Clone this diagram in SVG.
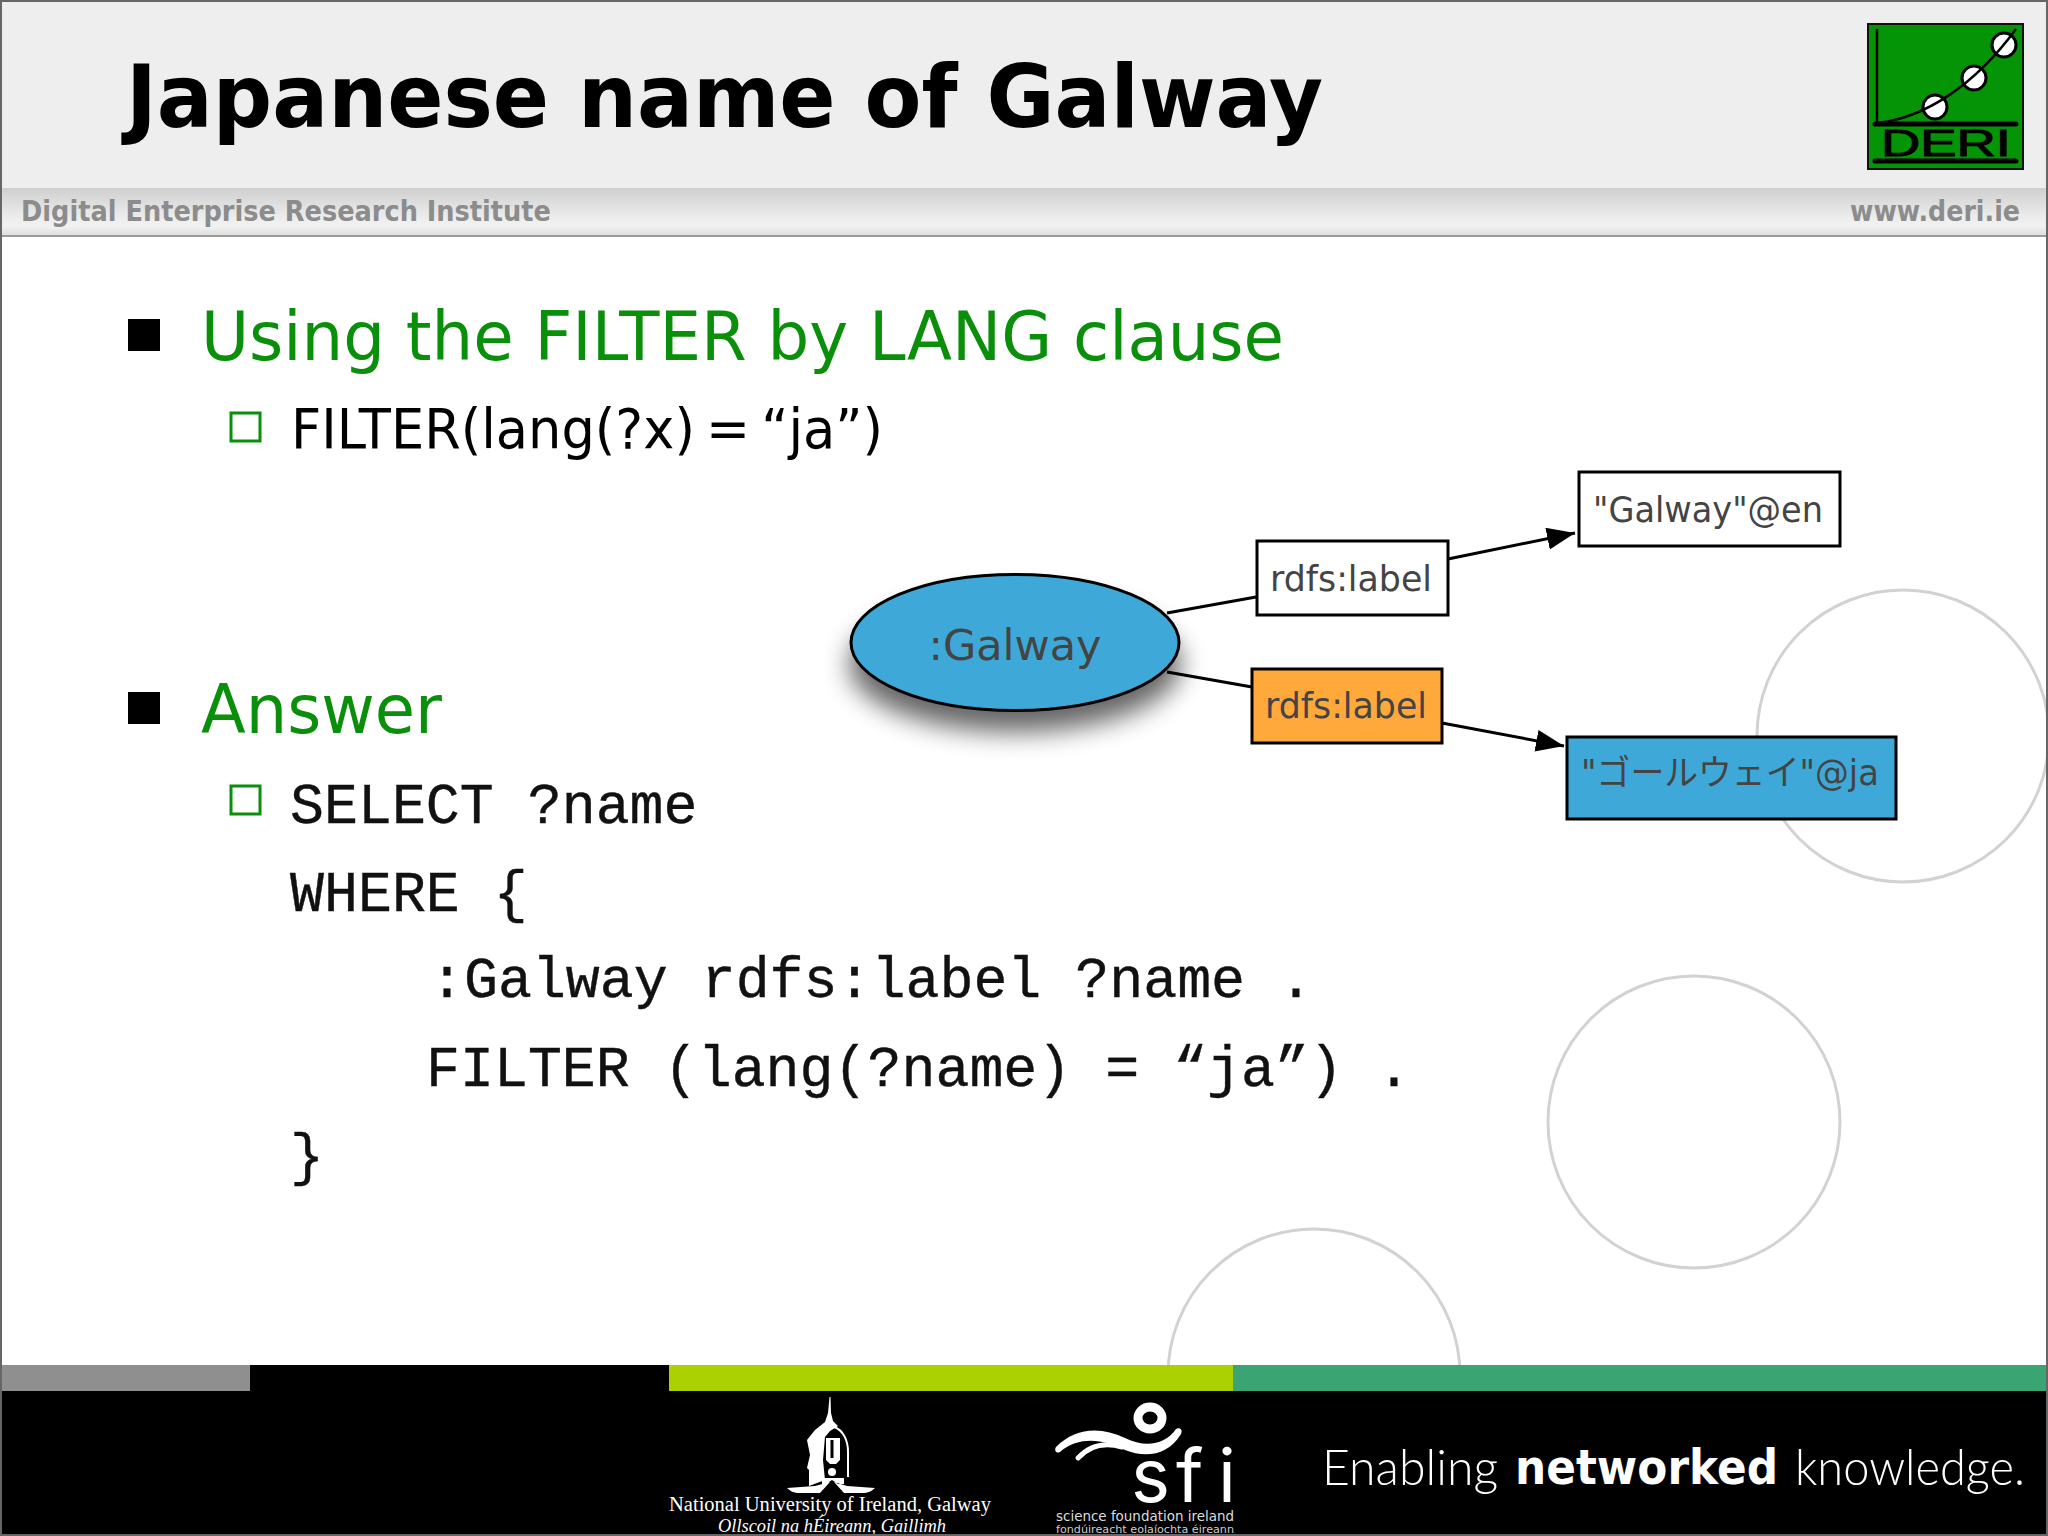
<svg xmlns="http://www.w3.org/2000/svg" width="2048" height="1536" viewBox="0 0 2048 1536">
<style>
.g{font-family:"DejaVu Sans","Liberation Sans",sans-serif;fill:#444}
.grn{font-family:"DejaVu Sans",sans-serif;fill:#0a8f0a;font-size:68px}
.blk{font-family:"DejaVu Sans",sans-serif;fill:#000;font-size:56px}
.mono{font-family:"Liberation Mono",monospace;fill:#111;font-size:56.6px;stroke:#111;stroke-width:.4}
.hd{font-family:"DejaVu Sans",sans-serif;font-weight:bold;fill:#8c8c8c;font-size:29px}
.node{stroke:#000;stroke-width:3}
.conn{stroke:#000;stroke-width:3;fill:none}
.deco{fill:none;stroke:#d2d2d2;stroke-width:3}
.ft{fill:#fff}
</style>
<defs>
<marker id="arr" markerUnits="userSpaceOnUse" markerWidth="30" markerHeight="24" refX="28" refY="11" orient="auto"><path d="M0 0L28 11L0 22z" fill="#000"/></marker>
<linearGradient id="band" x1="0" y1="0" x2="0" y2="1"><stop offset="0" stop-color="#cfcfcf"/><stop offset=".6" stop-color="#ececec"/><stop offset=".8" stop-color="#f2f2f2"/><stop offset="1" stop-color="#dcdcdc"/></linearGradient>
<filter id="sh" x="-30%" y="-40%" width="160%" height="200%"><feGaussianBlur stdDeviation="13"/></filter>
</defs>
<rect width="2048" height="1536" fill="#fff"/>
<g id="header">
<rect width="2048" height="188" fill="#eeeeee"/>
<rect y="188" width="2048" height="48" fill="url(#band)"/>
<rect y="235" width="2048" height="2" fill="#9a9a9a"/>
<text x="126" y="127" font-family="DejaVu Sans,sans-serif" font-weight="bold" font-size="88" fill="#000" textLength="1197" lengthAdjust="spacingAndGlyphs">Japanese name of Galway</text>
<text class="hd" x="21" y="221" textLength="530" lengthAdjust="spacingAndGlyphs">Digital Enterprise Research Institute</text>
<text class="hd" x="1850" y="221" textLength="170" lengthAdjust="spacingAndGlyphs">www.deri.ie</text>
</g>
<g id="logo">
<rect x="1868" y="24" width="155" height="145" fill="#059405" stroke="#111" stroke-width="2"/>
<g fill="#fff" stroke="#000" stroke-width="3"><circle cx="1935" cy="107" r="12"/><circle cx="1974" cy="78" r="12"/><circle cx="2004" cy="45" r="12"/></g>
<path d="M1877 29V124M1877 123C1925 118 1975 85 2016 29" fill="none" stroke="#000" stroke-width="2.5"/>
<path d="M1875 124H2016M1875 161H2016" stroke="#000" stroke-width="5" stroke-linecap="round"/>
<text x="1881" y="156" font-family="Liberation Sans,sans-serif" font-size="36" fill="#000" stroke="#000" stroke-width="1" textLength="130" lengthAdjust="spacingAndGlyphs">DERI</text>
</g>
<g id="decor">
<circle class="deco" cx="1903" cy="736" r="146"/>
<circle class="deco" cx="1694" cy="1122" r="146"/>
<circle class="deco" cx="1314" cy="1375" r="146"/>
</g>
<g id="body">
<rect x="128" y="319" width="32" height="32" fill="#000"/>
<text class="grn" x="201" y="360" textLength="1083" lengthAdjust="spacingAndGlyphs">Using the FILTER by LANG clause</text>
<rect x="231" y="413" width="29" height="28" fill="none" stroke="#0a8f0a" stroke-width="3"/>
<text class="blk" x="291" y="448" word-spacing="-6" textLength="592" lengthAdjust="spacingAndGlyphs">FILTER(lang(?x) = “ja”)</text>
<rect x="128" y="692" width="32" height="32" fill="#000"/>
<text class="grn" x="201" y="733" textLength="241" lengthAdjust="spacingAndGlyphs">Answer</text>
<rect x="231" y="786" width="29" height="28" fill="none" stroke="#0a8f0a" stroke-width="3"/>
<text class="mono" x="290" y="823">SELECT ?name</text>
<text class="mono" x="290" y="911">WHERE {</text>
<text class="mono" x="430" y="997">:Galway rdfs:label ?name .</text>
<text class="mono" x="426" y="1086">FILTER (lang(?name) = “ja”) .</text>
<text class="mono" x="290" y="1174">}</text>
</g>
<g id="connectors">
<path class="conn" d="M1167 613L1256 597"/>
<path class="conn" d="M1448 559L1575 533" marker-end="url(#arr)"/>
<path class="conn" d="M1167 672L1252 687"/>
<path class="conn" d="M1442 723L1564 746" marker-end="url(#arr)"/>
</g>
<g id="galway">
<ellipse cx="1015" cy="664" rx="166" ry="68" fill="#000" opacity=".6" filter="url(#sh)"/>
<ellipse class="node" cx="1015" cy="642.5" rx="164" ry="68" fill="#3ea9d8"/>
<text class="g" x="1015" y="660" text-anchor="middle" font-size="43">:Galway</text>
</g>
<g id="label-en">
<rect class="node" x="1257" y="541" width="191" height="74" fill="#fff"/>
<text class="g" x="1351" y="591" text-anchor="middle" font-size="35" textLength="162" lengthAdjust="spacingAndGlyphs">rdfs:label</text>
</g>
<g id="lit-en">
<rect class="node" x="1579" y="472" width="261" height="74" fill="#fff"/>
<text class="g" x="1708" y="522" text-anchor="middle" font-size="35" textLength="230" lengthAdjust="spacingAndGlyphs">"Galway"@en</text>
</g>
<g id="label-ja">
<rect class="node" x="1252" y="669" width="190" height="74" fill="#ffa93d"/>
<text class="g" x="1346" y="718" text-anchor="middle" font-size="35" textLength="162" lengthAdjust="spacingAndGlyphs">rdfs:label</text>
</g>
<g id="lit-ja">
<rect class="node" x="1567" y="737" width="329" height="82" fill="#3ea9d8"/>
<text x="1730" y="785" text-anchor="middle" font-size="35" fill="#444" font-family="DejaVu Sans,Noto Sans CJK JP,sans-serif" textLength="298" lengthAdjust="spacingAndGlyphs">"ゴールウェイ"@ja</text>
</g>
<g id="footer">
<rect y="1391" width="2048" height="145" fill="#000"/>
<rect y="1365" width="250" height="26" fill="#8f8f8f"/>
<rect x="250" y="1365" width="419" height="26" fill="#000"/>
<rect x="669" y="1365" width="564" height="26" fill="#abd200"/>
<rect x="1233" y="1365" width="815" height="26" fill="#3aa572"/>
<g id="nuig">
<path class="ft" d="M829.5 1397H830.5L831 1413L833 1421L838 1426L830 1431L825 1437L823 1460L825 1480L809 1486V1470L807 1468L810 1455L807 1440L815 1430L825 1422L828 1413z"/>
<path d="M834 1427C843 1430 848 1440 848 1452V1477" fill="none" stroke="#fff" stroke-width="2"/>
<path class="ft" d="M826 1438H840V1460L836 1464H830L826 1460z"/>
<path d="M832 1440V1458" stroke="#000" stroke-width="3"/>
<circle class="ft" cx="832" cy="1472" r="4"/>
<path class="ft" d="M822 1478H844V1484H838L832 1480L826 1484H822zM787 1488L815 1486L830 1482L820 1493H800C794 1493 790 1491 787 1488zM875 1488L847 1486L834 1482L844 1493H862C868 1493 872 1491 875 1488z"/>
<text x="669" y="1511" font-family="Liberation Serif,serif" font-size="20" fill="#fff" textLength="322" lengthAdjust="spacingAndGlyphs">National University of Ireland, Galway</text>
<text x="718" y="1531.5" font-family="Liberation Serif,serif" font-style="italic" font-size="19" fill="#fff" textLength="228" lengthAdjust="spacingAndGlyphs">Ollscoil na hÉireann, Gaillimh</text>
</g>
<g id="sfi">
<ellipse cx="1150" cy="1418" rx="12" ry="11" fill="none" stroke="#fff" stroke-width="9"/>
<path class="ft" d="M1056 1447C1075 1428 1100 1426 1125 1438C1145 1448 1165 1445 1176 1429C1180 1427 1183 1430 1181 1434C1168 1456 1145 1458 1125 1450C1105 1440 1080 1435 1060 1452C1056 1454 1054 1450 1056 1447z"/>
<path d="M1078 1458C1090 1445 1105 1442 1122 1447" fill="none" stroke="#fff" stroke-width="5" stroke-linecap="round"/>
<text x="1131 1176 1218" y="1502" font-family="Inter,sans-serif" font-size="74" fill="#fff">sfi</text>
<text x="1056" y="1521" font-family="DejaVu Sans,sans-serif" font-size="13.5" fill="#ddd" textLength="178" lengthAdjust="spacingAndGlyphs">science foundation ireland</text>
<text x="1056" y="1533" font-family="DejaVu Sans,sans-serif" font-size="11" fill="#ccc" textLength="178" lengthAdjust="spacingAndGlyphs">fondúireacht eolaíochta éireann</text>
</g>
<text x="1322" y="1485" font-family="Lato,sans-serif" font-size="50" font-weight="300" fill="#fff" textLength="176" lengthAdjust="spacingAndGlyphs">Enabling</text>
<text x="1515" y="1484" font-family="DejaVu Sans,sans-serif" font-size="48" font-weight="bold" fill="#fff" textLength="263" lengthAdjust="spacingAndGlyphs">networked</text>
<text x="1795" y="1485" font-family="Lato,sans-serif" font-size="50" font-weight="300" fill="#fff" textLength="230" lengthAdjust="spacingAndGlyphs">knowledge.</text>
</g>
<g id="frame">
<rect x="1" y="1" width="2046" height="1534" fill="none" stroke="#666" stroke-width="2"/>
</g>
</svg>
